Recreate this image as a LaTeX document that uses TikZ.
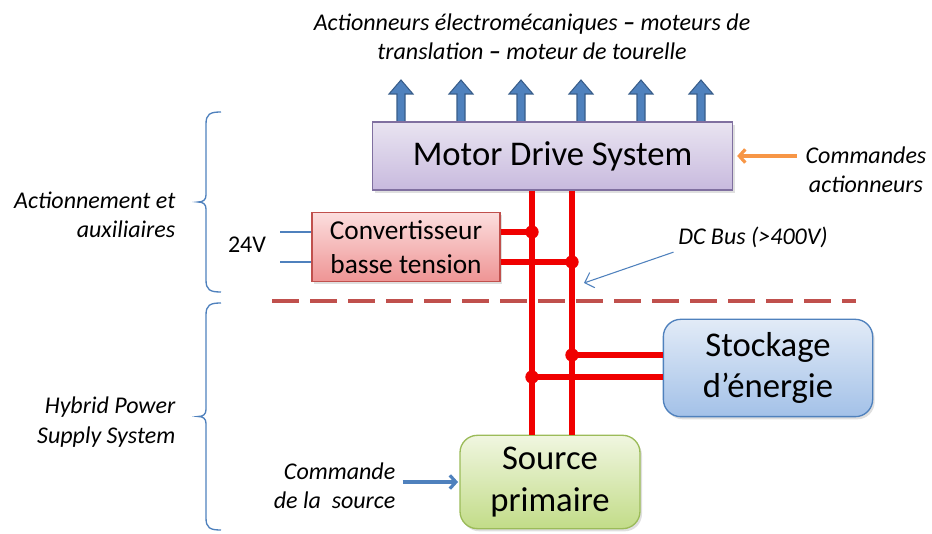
\documentclass[tikz,border=0pt]{standalone}
\usepackage{fontspec}
\setmainfont{Carlito}
\usetikzlibrary{positioning, arrows.meta, calc, shadows}

\definecolor{busred}{RGB}{240,0,0}
\definecolor{officeblue}{RGB}{79,129,189}
\definecolor{darkblue}{RGB}{56,93,138}
\definecolor{officeorange}{RGB}{247,150,70}
\definecolor{sepred}{RGB}{192,80,77}

\begin{document}
\begin{tikzpicture}[
		x=0.75pt, y=-0.75pt,
		>={Straight Barb[length=4.5pt, width=10pt]}, 
		block/.style={draw, line width=1pt, align=center, inner sep=0pt,
			font=\fontsize{26}{31}\selectfont,
			drop shadow={shadow xshift=1.5pt, shadow yshift=-2pt, opacity=0.25, fill=black!50}},
		mdsbox/.style={block, minimum width=270pt, minimum height=51pt,
			top color={rgb,255:red,233;green,228;blue,241}, bottom color={rgb,255:red,200;green,186;blue,222},
			draw={rgb,255:red,128;green,112;blue,160}},
		convbox/.style={block, minimum width=141pt, minimum height=52pt,
			font=\fontsize{20.5}{25}\selectfont,
			top color={rgb,255:red,252;green,222;blue,222}, bottom color={rgb,255:red,238;green,148;blue,148},
			draw=sepred},
		storebox/.style={block, rounded corners=13pt, minimum width=157pt, minimum height=73pt,
			top color={rgb,255:red,226;green,235;blue,247}, bottom color={rgb,255:red,163;green,193;blue,232},
			draw=officeblue},
		srcbox/.style={block, rounded corners=13pt, minimum width=135pt, minimum height=70pt,
			top color={rgb,255:red,240;green,246;blue,224}, bottom color={rgb,255:red,194;green,220;blue,136},
			draw={rgb,255:red,155;green,187;blue,89}},
		note/.style={font=\fontsize{18}{22}\selectfont\itshape},
		actarrow/.style={fill=officeblue, draw=darkblue, line width=0.8pt},
		bus/.style={busred, line width=3.8pt},
		lvwire/.style={officeblue, line width=1pt},
		sep/.style={sepred, line width=2.4pt, dash pattern=on 20pt off 8.5pt},
		bracket/.style={officeblue, line width=1pt}
		]
		
		\useasboundingbox (0,0) rectangle (932,534);
		
		% --- actuator outputs ---
		\foreach \x in {401,461,...,701}
		\filldraw[actarrow] (\x-4,124) -- (\x-4,94) -- (\x-12,94) -- (\x,80) -- (\x+12,94) -- (\x+4,94) -- (\x+4,124) -- cycle;
		
		% --- blocks ---
		\node[mdsbox] (mds) at (552.5,156) {Motor Drive System};
		\node[convbox] (conv) at (406,247) {Convertisseur\\basse tension};
		\node[storebox] (stock) at (768,368) {Stockage\\d’énergie};
		\node[srcbox] (src) at (550,482) {Source\\primaire};
		
		% --- DC bus ---
		\coordinate (b1) at (532,0);
		\coordinate (b2) at (572,0);
		\coordinate (j1) at (532,232);
		\coordinate (j2) at (572,262);
		\coordinate (j3) at (572,355);
		\coordinate (j4) at (532,377);
		\draw[bus] (b1 |- mds.south) -- (b1 |- src.north);
		\draw[bus] (b2 |- mds.south) -- (b2 |- src.north);
		\draw[bus] (conv.east |- j1) -- (j1);
		\draw[bus] (conv.east |- j2) -- (j2);
		\draw[bus] (j3) -- (stock.west |- j3);
		\draw[bus] (j4) -- (stock.west |- j4);
		\foreach \j in {j1,j2,j3,j4}
		\fill[busred] (\j) circle (5pt);
		
		% separation between the two sub-systems
		\draw[sep] (272,301) -- (856,301);
		
		% --- labels ---
		\node[note, align=center] (act) at (532,37) {Actionneurs électromécaniques \textbf{–} moteurs de\\translation \textbf{–} moteur de tourelle};
		\node[note, align=center] (cmdact) at (866,170) {Commandes\\actionneurs};
		\node[note, align=right, anchor=east] (actaux) at (180,215) {Actionnement et\\auxiliaires};
		\node[note, align=right, anchor=east] (hpss) at (180,422) {Hybrid Power\\Supply System};
		\node[note, align=right, anchor=east] (cmdsrc) at (400,486) {Commande\\de la~ source};
		\node[note] (dcbus) at (753,237) {DC Bus (>400V)};
		\node[font=\fontsize{18}{22}\selectfont] (v24) at (247,245) {24V};
		\coordinate (busmark) at (584,283);
		
		% low voltage output
		\draw[lvwire] (v24.east |- j1) ++(7pt,0) -- (conv.west |- j1);
		\draw[lvwire] (v24.east |- j2) ++(7pt,0) -- (conv.west |- j2);
		
		% commands
		\draw[->, officeorange, line width=2.4pt, shorten <=3pt, shorten >=3pt] (cmdact.west |- mds.east) -- (mds.east);
		\draw[->, officeblue, line width=2.4pt, shorten <=2pt, shorten >=1pt] (cmdsrc.east |- src.west) -- (src.west);
		\draw[-{Straight Barb[length=6pt]}, officeblue, line width=0.8pt] (dcbus.south west) -- (busmark);
		
		% --- braces ---
		\foreach \ya/\yb in {112/292, 303/530}
		\draw[bracket] (221,\ya) .. controls (210,\ya) and (206,\ya+2) .. (206,\ya+12)
			-- (206,{(\ya+\yb)/2-7}) .. controls (206,{(\ya+\yb)/2-2}) and (203,{(\ya+\yb)/2}) .. (198,{(\ya+\yb)/2})
			.. controls (203,{(\ya+\yb)/2}) and (206,{(\ya+\yb)/2+2}) .. (206,{(\ya+\yb)/2+7})
			-- (206,\yb-12) .. controls (206,\yb-2) and (210,\yb) .. (221,\yb);
		
	\end{tikzpicture}
\end{document}
